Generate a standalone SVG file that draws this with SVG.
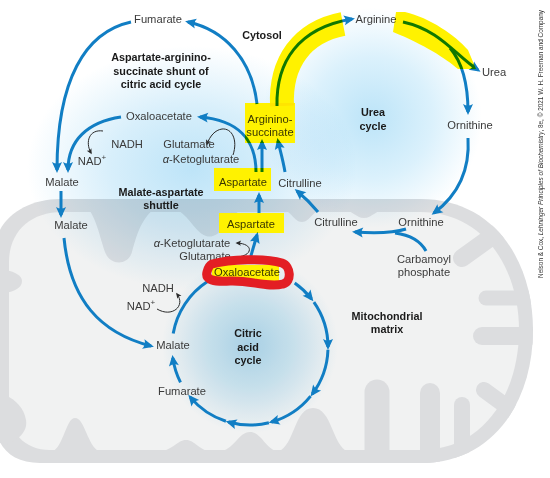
<svg xmlns="http://www.w3.org/2000/svg" width="550" height="478" viewBox="0 0 550 478">
<defs>
<style>
.lb{font-family:"Liberation Sans",Arial,sans-serif;font-size:11.2px;fill:#3a3a3a;text-anchor:middle}
.bd{font-family:"Liberation Sans",Arial,sans-serif;font-size:10.8px;font-weight:bold;fill:#1a1a1a;text-anchor:middle}
.ar{fill:none;stroke:#117ec4;stroke-width:3;marker-end:url(#ah)}
.ln{fill:none;stroke:#117ec4;stroke-width:3}
.sm{fill:none;stroke:#2a2a2a;stroke-width:1;marker-end:url(#sh)}
.cr{fill:#dcdddf}
.hl{fill:#fff200;mix-blend-mode:multiply}
.wu{fill:#ffffff}
.glow{mix-blend-mode:multiply}
.cp{font-family:"Liberation Sans",Arial,sans-serif;font-size:6.3px;fill:#333}
</style>
<clipPath id="mclip">
<path d="M60,199 L420,199 C495,199 533,262 533,330 C533,400 495,463 420,463 L40,463 C10,463 -5,445 -5,420 L-5,250 C-5,220 25,199 60,199 Z"/>
</clipPath>
<radialGradient id="gL" cx="0.5" cy="0.5" r="0.5">
<stop offset="0" stop-color="#bde4f8"/>
<stop offset="0.5" stop-color="#d8effb"/>
<stop offset="1" stop-color="#ffffff"/>
</radialGradient>
<radialGradient id="gU" cx="0.5" cy="0.5" r="0.5">
<stop offset="0" stop-color="#bce4f8"/>
<stop offset="0.55" stop-color="#dbf1fc"/>
<stop offset="1" stop-color="#ffffff"/>
</radialGradient>
<radialGradient id="gC" cx="0.5" cy="0.5" r="0.5">
<stop offset="0" stop-color="#b2dcf2"/>
<stop offset="0.5" stop-color="#d3ecf8"/>
<stop offset="1" stop-color="#ffffff"/>
</radialGradient>
<marker id="ah" viewBox="-10 -7 15 14" refX="0" refY="0" markerWidth="15" markerHeight="14" markerUnits="userSpaceOnUse" orient="auto">
<path d="M3,0 L-8,-5 Q-5,0 -8,5 Z" fill="#117ec4"/>
</marker>
<marker id="sh" viewBox="-6 -4 9 8" refX="0" refY="0" markerWidth="9" markerHeight="8" markerUnits="userSpaceOnUse" orient="auto">
<path d="M1.5,0 L-4,-2.6 L-2.8,0 L-4,2.6 Z" fill="#2a2a2a"/>
</marker>
</defs>
<rect width="550" height="478" fill="#ffffff"/>

<g id="mitochondrion">
<path d="M60,199 L420,199 C495,199 533,262 533,330 C533,400 495,463 420,463 L40,463 C10,463 -5,445 -5,420 L-5,250 C-5,220 25,199 60,199 Z" fill="#dcdddf"/>
<path d="M62,212 L420,212 C485,212 519,270 519,330 C519,392 485,450 420,450 L50,450 C24,450 9,432 9,408 L9,262 C9,232 30,212 62,212 Z" fill="#f1f2f2"/>
<g clip-path="url(#mclip)">
<path class="cr" d="M85,205 C96,215 100,238 105,252 C110,266 128,266 132,252 C136,238 140,220 155,208 Z"/>
<path class="cr" d="M172,208 C188,212 194,232 206,236 C219,240 226,222 242,208 Z"/>
<path class="cr" d="M280,208 C291,210 294,222 302,222 C310,222 313,210 324,208 Z"/>
<path class="cr" d="M340,208 C352,210 356,218 364,218 C372,218 376,210 388,208 Z"/>
<path class="cr" d="M5,270 C16,272 22,276 22,281 C22,287 16,291 5,293 Z"/>
<path class="cr" d="M5,395 C16,400 24,408 26,420 C28,432 18,440 5,445 Z"/>
<g stroke="#dcdddf" stroke-linecap="round" fill="none">
<line x1="512" y1="222" x2="462" y2="258" stroke-width="18"/>
<line x1="540" y1="298" x2="486" y2="298" stroke-width="15"/>
<line x1="540" y1="336" x2="482" y2="336" stroke-width="18"/>
<line x1="525" y1="420" x2="484" y2="390" stroke-width="16"/>
<line x1="377" y1="475" x2="377" y2="392" stroke-width="25"/>
<line x1="430" y1="475" x2="430" y2="393" stroke-width="20"/>
<line x1="462" y1="475" x2="462" y2="405" stroke-width="16"/>
</g>
<path class="cr" d="M278,452 C295,445 294,408 313,408 C332,408 332,445 348,452 Z"/>
<path class="cr" d="M218,452 C235,450 238,432 250,432 C262,432 265,450 280,452 Z"/>
<path class="cr" d="M158,452 C174,450 177,440 186,440 C195,440 198,450 212,452 Z"/>
<path class="cr" d="M52,452 C64,446 66,418 75,418 C85,418 87,446 100,452 Z"/>
</g>
</g>

<g id="glows">
<ellipse class="glow" cx="192" cy="168" rx="165" ry="122" fill="url(#gL)"/>
<circle class="glow" cx="372" cy="118" r="110" fill="url(#gU)"/>
<circle class="glow" cx="250" cy="345" r="88" fill="url(#gC)"/>
<rect class="wu" x="214" y="168" width="57" height="23"/>
<rect class="wu" x="245" y="103" width="50" height="40"/>
<rect class="wu" x="219" y="213" width="65" height="20"/>
<rect class="wu" x="212" y="265" width="67" height="18"/>
<path d="M282,106 C280,62 302,32 343,24" fill="none" stroke="#ffffff" stroke-width="24"/>
<path class="wu" d="M396,12 L405,12 C430,18 455,35 468,50 L476,69 L458,69 C445,58 425,45 393,32 Z"/>
</g>

<g id="connectors">
<path class="ar" d="M257,104 C252,60 225,30 188,22"/>
<path class="ar" d="M131,22 C85,32 57,80 57,170"/>
<path class="ar" d="M121,117 C88,122 68,140 68,170"/>
<path class="ar" d="M256,172 C256,140 238,120 200,117"/>
<path class="ar" d="M262,172 L262,142"/>
<path class="ar" d="M285,172 C283,160 280,150 278,141"/>
<path class="ar" d="M277,106 C276,62 298,28 352,19"/>
<path class="ar" d="M403,22 C440,30 455,55 478,70"/>
<path class="ar" d="M450,48 C462,62 468,85 468,112"/>
<path class="ar" d="M468,138 C470,170 458,195 434,213"/>
<path class="ar" d="M318,212 Q308,200 297,191"/>
<path class="ar" d="M406,229 C390,234 370,233 355,232"/>
<path class="ln" d="M426,251 C420,240 410,235 395,233"/>
<path class="ar" d="M259,213 L259,195"/>
<path class="ar" d="M250,259 L257,235"/>
<path class="ar" d="M61,191 L61,215"/>
<path class="ar" d="M64,238 C70,300 100,333 151,346"/>
<path class="ar" d="M294.7,283.1 A78,78 0 0 1 311.5,299.0"/>
<path class="ar" d="M313.9,302.2 A78,78 0 0 1 328,347"/>
<path class="ar" d="M327.95,349.7 A78,78 0 0 1 312.3,394.0"/>
<path class="ar" d="M310.6,396.1 A78,78 0 0 1 271.5,422.0"/>
<path class="ar" d="M268.9,422.7 A78,78 0 0 1 228.5,422.0"/>
<path class="ar" d="M225.9,421.2 A78,78 0 0 1 190.2,397.1"/>
<path class="ar" d="M180.5,382.4 A78,78 0 0 1 172.8,357.9"/>
<path class="ln" d="M173.2,333.5 A78,78 0 0 1 207.5,281.6"/>
<path class="sm" d="M103,131 C89,129 85,142 91,153"/>
<path class="sm" d="M233,155 C238,140 232,128 222,129 C215,130 210,136 207,144"/>
<path class="sm" d="M233,257 C252,258 256,244 237,243"/>
<path class="sm" d="M157,309 C172,318 186,306 177,294"/>
</g>

<g id="fumarate-cyto"><text class="lb" x="158" y="23">Fumarate</text></g>
<g id="cytosol-label"><text class="bd" x="262" y="39">Cytosol</text></g>
<g id="shunt-label"><text class="bd" x="161" y="61">Aspartate-arginino-</text><text class="bd" x="161" y="75">succinate shunt of</text><text class="bd" x="161" y="88">citric acid cycle</text></g>
<g id="oxaloacetate-cyto"><text class="lb" x="159" y="120">Oxaloacetate</text></g>
<g id="nadh-cyto"><text class="lb" x="127" y="148">NADH</text><text class="lb" x="92" y="165">NAD<tspan font-size="8" dy="-5">+</tspan></text></g>
<g id="glutamate-cyto"><text class="lb" x="189" y="148">Glutamate</text><text class="lb" x="201" y="163"><tspan font-style="italic">α</tspan>-Ketoglutarate</text></g>
<g id="malate-cyto"><text class="lb" x="62" y="186">Malate</text></g>
<g id="shuttle-label"><text class="bd" x="161" y="196">Malate-aspartate</text><text class="bd" x="161" y="209">shuttle</text></g>
<g id="aspartate-cyto"><text class="lb" x="243" y="186">Aspartate</text><rect class="hl" x="214" y="168" width="57" height="23"/></g>
<g id="argininosuccinate"><text class="lb" x="270" y="123">Arginino-</text><text class="lb" x="270" y="136">succinate</text><rect class="hl" x="245" y="103" width="50" height="40"/></g>
<g id="citrulline-cyto"><text class="lb" x="300" y="187">Citrulline</text></g>
<g id="arginine"><text class="lb" x="376" y="23">Arginine</text></g>
<g id="urea"><text class="lb" x="494" y="76">Urea</text></g>
<g id="urea-cycle-label"><text class="bd" x="373" y="116">Urea</text><text class="bd" x="373" y="130">cycle</text></g>
<g id="ornithine-cyto"><text class="lb" x="470" y="129">Ornithine</text></g>
<g id="citrulline-mito"><text class="lb" x="336" y="226">Citrulline</text></g>
<g id="ornithine-mito"><text class="lb" x="421" y="226">Ornithine</text></g>
<g id="carbamoyl-phosphate"><text class="lb" x="424" y="263">Carbamoyl</text><text class="lb" x="424" y="276">phosphate</text></g>
<g id="matrix-label"><text class="bd" x="387" y="320">Mitochondrial</text><text class="bd" x="387" y="333">matrix</text></g>
<g id="aspartate-mito"><text class="lb" x="251" y="228">Aspartate</text><rect class="hl" x="219" y="213" width="65" height="20"/></g>
<g id="glutamate-mito"><text class="lb" x="192" y="247"><tspan font-style="italic">α</tspan>-Ketoglutarate</text><text class="lb" x="205" y="260">Glutamate</text></g>
<g id="oxaloacetate-mito"><text class="lb" x="247" y="276">Oxaloacetate</text><rect class="hl" x="212" y="265" width="67" height="18"/></g>
<g id="nadh-mito"><text class="lb" x="158" y="292">NADH</text><text class="lb" x="141" y="310">NAD<tspan font-size="8" dy="-5">+</tspan></text></g>
<g id="malate-mito-cycle"><text class="lb" x="173" y="349">Malate</text></g>
<g id="fumarate-mito"><text class="lb" x="182" y="395">Fumarate</text></g>
<g id="citric-label"><text class="bd" x="248" y="337">Citric</text><text class="bd" x="248" y="351">acid</text><text class="bd" x="248" y="364">cycle</text></g>
<g id="malate-mito"><text class="lb" x="71" y="229">Malate</text></g>

<g id="highlights">
<path d="M282,106 C280,62 302,32 343,24" fill="none" stroke="#fff200" stroke-width="24" style="mix-blend-mode:multiply"/>
<path class="hl" d="M396,12 L405,12 C430,18 455,35 468,50 L476,69 L458,69 C445,58 425,45 393,32 Z"/>
</g>

<g id="annotation">
<path d="M212,264 C230,259 265,258 282,263 C291,266 292,282 283,284 C268,288 250,280 230,281 C214,282 205,280 207,272 C208,268 210,265 212,264 Z" fill="none" stroke="#e31e24" stroke-width="9" stroke-linejoin="round"/>
</g>

<g id="credit">
<text class="cp" transform="translate(543,278) rotate(-90)" textLength="268" lengthAdjust="spacingAndGlyphs">Nelson &amp; Cox, <tspan font-style="italic">Lehninger Principles of Biochemistry</tspan>, 8e, © 2021 W. H. Freeman and Company</text>
</g>
</svg>
